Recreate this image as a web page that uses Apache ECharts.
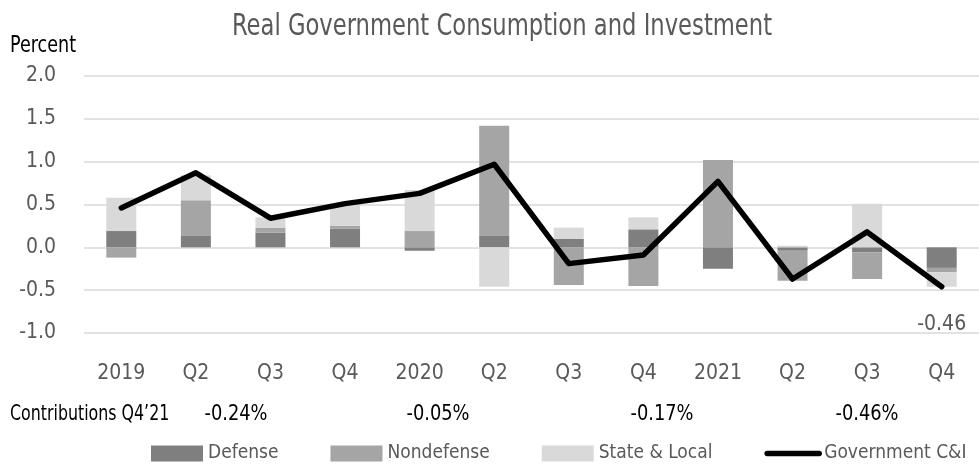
<!DOCTYPE html>
<html>
<head>
<meta charset="utf-8">
<script src="https://cdn.jsdelivr.net/npm/echarts@6/dist/echarts.min.js"></script>
<style>
  html, body { margin: 0; padding: 0; background: #fff; }
  #chart { width: 979px; height: 469px; }
</style>
</head>
<body>
<div id="chart"></div>
<script>
// Quarterly contributions to real government consumption & investment growth (percentage points)
const quarters = ['2019', 'Q2', 'Q3', 'Q4', '2020', 'Q2', 'Q3', 'Q4', '2021', 'Q2', 'Q3', 'Q4'];
const defense = [0.19, 0.14, 0.17, 0.22, -0.04, 0.14, 0.10, 0.21, -0.25, -0.04, -0.06, -0.24];
const nondefense = [-0.12, 0.41, 0.06, 0.03, 0.19, 1.28, -0.44, -0.45, 1.02, -0.35, -0.31, -0.05];
const stateLocal = [0.39, 0.29, 0.12, 0.26, 0.48, -0.46, 0.13, 0.14, 0.00, 0.02, 0.51, -0.17];
const govTotal = [0.46, 0.87, 0.34, 0.51, 0.63, 0.97, -0.19, -0.09, 0.77, -0.37, 0.18, -0.46];
const yTicks = [-1.0, -0.5, 0.0, 0.5, 1.0, 1.5, 2.0];

const FONT = "'DejaVu Sans Condensed', 'Liberation Sans Narrow', 'Arial Narrow', sans-serif";
const GREY_TEXT = '#595959';

const chart = echarts.init(document.getElementById('chart'), null, { renderer: 'canvas' });

const last = quarters.length - 1;

// Latest-quarter contribution row beneath the axis
const contribLabels = [
  { x: 236, v: defense[last] },
  { x: 438, v: nondefense[last] },
  { x: 662, v: stateLocal[last] },
  { x: 867, v: govTotal[last] }
];

const barSeries = (name, data, color) => ({
  name, type: 'bar', stack: 'parts', data,
  barWidth: 30,
  itemStyle: { color },
  emphasis: { disabled: true },
  z: 2
});

chart.setOption({
  animation: false,
  textStyle: { fontFamily: FONT },
  grid: { left: 84, width: 897, top: 76, bottom: 136, containLabel: false },
  xAxis: {
    type: 'category',
    data: quarters,
    axisLine: { show: false },
    axisTick: { show: false },
    axisLabel: { color: GREY_TEXT, fontSize: 21, fontFamily: FONT, margin: 30 }
  },
  yAxis: {
    type: 'value',
    min: yTicks[0], max: yTicks[yTicks.length - 1], interval: 0.5,
    axisLine: { show: false },
    axisTick: { show: false },
    splitLine: { lineStyle: { color: '#d9d9d9', width: 1.5 } },
    axisLabel: { color: GREY_TEXT, fontSize: 21, fontFamily: FONT, margin: 28,
      formatter: v => v.toFixed(1) }
  },
  legend: {
    left: 151, top: 444, padding: 0,
    width: 900,
    itemWidth: 52, itemHeight: 16, itemGap: 52,
    textStyle: { color: GREY_TEXT, fontSize: 19, fontFamily: FONT },
    data: [
      { name: 'Defense', icon: 'rect' },
      { name: 'Nondefense', icon: 'rect' },
      { name: 'State & Local', icon: 'rect' },
      // plain thick line key, no marker
      { name: 'Government C&I', itemStyle: { opacity: 0 },
        lineStyle: { width: 5.5, cap: 'round', color: '#000' } }
    ]
  },
  series: [
    barSeries('Defense', defense, '#7f7f7f'),
    barSeries('Nondefense', nondefense, '#a5a5a5'),
    barSeries('State & Local', stateLocal, '#d9d9d9'),
    {
      name: 'Government C&I', type: 'line', data: govTotal,
      symbol: 'none', showSymbol: false,
      lineStyle: { color: '#000', width: 5.5, join: 'round', cap: 'round' },
      itemStyle: { color: '#000' },
      emphasis: { disabled: true },
      // value tag for the latest quarter
      markPoint: {
        symbol: 'circle', symbolSize: 1,
        itemStyle: { color: '#000' },
        label: { show: true, position: 'inside', offset: [0, 38],
          formatter: p => p.value.toFixed(2), color: GREY_TEXT, fontSize: 21, fontFamily: FONT },
        data: [{ coord: [last, govTotal[last]], value: govTotal[last] }]
      },
      z: 5
    }
  ],
  graphic: [
    { type: 'text', x: 502, y: 27, scaleX: 0.84, originX: 0, originY: 0,
      style: { text: 'Real Government Consumption and Investment', fill: GREY_TEXT,
        fontSize: 30, fontFamily: FONT, align: 'center', verticalAlign: 'middle' } },
    { type: 'text', x: 10, y: 46, scaleX: 0.85,
      style: { text: 'Percent', fill: '#000', fontSize: 23, fontFamily: FONT,
        align: 'left', verticalAlign: 'middle' } },
    { type: 'text', x: 10, y: 414, scaleX: 0.8,
      style: { text: 'Contributions Q4\u201921', fill: '#000', fontSize: 22, fontFamily: FONT,
        align: 'left', verticalAlign: 'middle' } },
    ...contribLabels.map(c => ({
      type: 'text', x: c.x, y: 414, scaleX: 0.9,
      style: { text: c.v.toFixed(2) + '%', fill: '#000', fontSize: 22, fontFamily: FONT,
        align: 'center', verticalAlign: 'middle' }
    }))
  ]
});
</script>
</body>
</html>
